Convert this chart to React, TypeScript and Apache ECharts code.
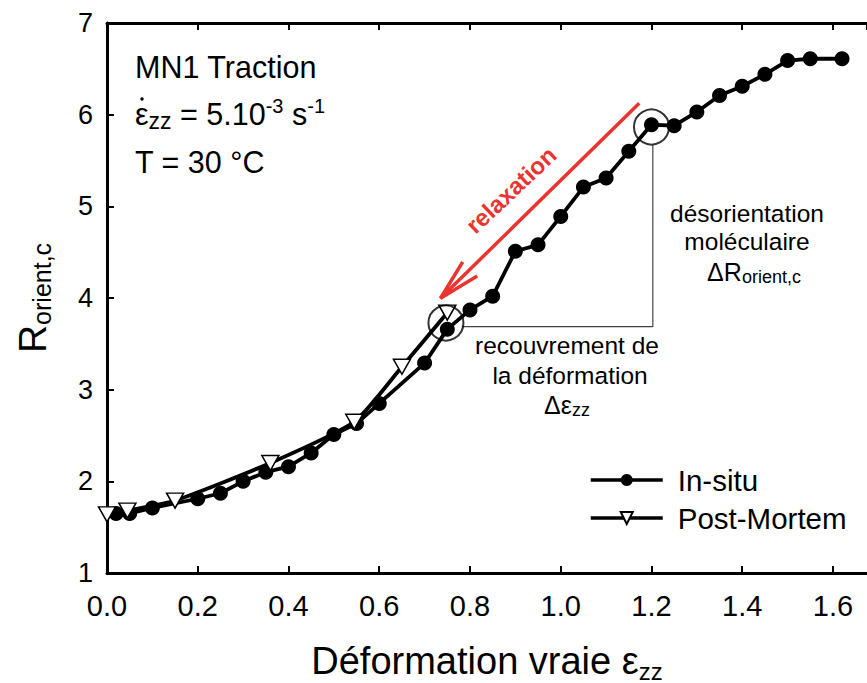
import React, { useEffect, useRef } from "react";
import * as echarts from "echarts";

// ---- data ----
const inSituX = [0.02, 0.05, 0.1, 0.2, 0.25, 0.3, 0.35, 0.4, 0.45, 0.5, 0.55, 0.6, 0.7, 0.75, 0.8, 0.85, 0.9, 0.95, 1.0, 1.05, 1.1, 1.15, 1.2, 1.25, 1.3, 1.35, 1.4, 1.45, 1.5, 1.55, 1.62];
const inSituY = [1.65, 1.65, 1.71, 1.81, 1.87, 2.0, 2.1, 2.16, 2.31, 2.51, 2.63, 2.85, 3.29, 3.66, 3.87, 4.02, 4.51, 4.58, 4.89, 5.21, 5.31, 5.6, 5.89, 5.88, 6.03, 6.21, 6.31, 6.44, 6.59, 6.61, 6.61];
const postMortemX = [0.0, 0.045, 0.15, 0.36, 0.545, 0.65, 0.75];
const postMortemY = [1.64, 1.68, 1.79, 2.2, 2.65, 3.25, 3.84];
const xTicks = [0, 0.2, 0.4, 0.6, 0.8, 1.0, 1.2, 1.4, 1.6];
const yTicks = [1, 2, 3, 4, 5, 6, 7];
const highlightPoints = [[0.747, 3.727], [1.2, 5.865]];
const guideLine = [[0.782, 3.687], [1.203, 3.687], [1.203, 5.669]];
const arrowShaft = [[1.173, 6.124], [0.735, 3.997]];
const arrowHead = [[0.784, 4.394], [0.735, 3.997], [0.816, 4.241]];

const FONT = "Liberation Sans, Arial, sans-serif";
const NARROW = "Liberation Sans Narrow, Liberation Sans, Arial, sans-serif";
const RED = "#ea3430";

export default function App() {
  const ref = useRef<HTMLDivElement>(null);
  useEffect(() => {
    if (!ref.current) return;
    const chart = echarts.init(ref.current, null, { renderer: "svg" });
    const inSitu = inSituX.map((x, i) => [x, inSituY[i]]);
    const pm = postMortemX.map((x, i) => [x, postMortemY[i]]);
    const xMin = xTicks[0];
    const xMax = 1.675; // visible end of the (cropped) axis
    const isTick = (v: number) => xTicks.some((t) => Math.abs(t - v) < 1e-6);
    chart.setOption({
      animation: false,
      backgroundColor: "#ffffff",
      grid: { left: 107, right: 0, top: 23, bottom: 110, containLabel: false, outerBoundsMode: "none" },
      legend: {
        data: ["In-situ", "Post-Mortem"],
        orient: "vertical",
        left: 589,
        top: 465,
        padding: 0,
        itemWidth: 72,
        itemHeight: 15,
        itemGap: 8,
        lineStyle: { width: 3.5, color: "#000" },
        textStyle: { fontFamily: FONT, fontSize: 29.5, color: "#000", padding: [0, 0, 0, 10] },
      },
      xAxis: [
        {
          type: "value",
          min: xMin,
          max: xMax,
          interval: 0.2,
          position: "bottom",
          name: "{a|Déformation vraie ε}{s|zz}",
          nameLocation: "middle",
          nameGap: 66,
          nameTextStyle: {
            rich: {
              a: { fontFamily: NARROW, fontSize: 38, color: "#000", lineHeight: 44 },
              s: { fontFamily: NARROW, fontSize: 24, color: "#000", lineHeight: 22, verticalAlign: "bottom" },
            },
          },
          axisLine: { show: true, onZero: false, lineStyle: { color: "#000", width: 3 } },
          axisTick: { show: true, inside: true, length: 7, lineStyle: { color: "#000", width: 2 } },
          axisLabel: {
            show: true,
            margin: 18,
            fontFamily: NARROW,
            fontSize: 29,
            color: "#000",
            showMaxLabel: false,
            formatter: (v: number) => (isTick(v) ? v.toFixed(1) : ""),
          },
          splitLine: { show: false },
        },
        {
          type: "value",
          min: xMin,
          max: xMax,
          interval: 0.2,
          position: "top",
          axisLine: { show: true, onZero: false, lineStyle: { color: "#000", width: 3 } },
          axisTick: { show: true, inside: true, length: 7, lineStyle: { color: "#000", width: 2 } },
          axisLabel: { show: false },
          splitLine: { show: false },
        },
      ],
      yAxis: {
        type: "value",
        min: yTicks[0],
        max: yTicks[yTicks.length - 1],
        interval: 1,
        name: "{r|R}{s|orient,c}",
        nameLocation: "middle",
        nameRotate: 90,
        nameGap: 53,
        nameTextStyle: {
          rich: {
            r: { fontFamily: FONT, fontSize: 39, color: "#000", lineHeight: 44 },
            s: { fontFamily: FONT, fontSize: 25, color: "#000", lineHeight: 24, verticalAlign: "bottom" },
          },
        },
        axisLine: { show: true, onZero: false, lineStyle: { color: "#000", width: 3 } },
        axisTick: { show: true, inside: true, length: 7, lineStyle: { color: "#000", width: 2 } },
        axisLabel: { margin: 14, fontFamily: FONT, fontSize: 27, color: "#000" },
        splitLine: { show: false },
      },
      series: [
        {
          name: "guide",
          type: "line",
          data: guideLine,
          symbol: "none",
          lineStyle: { color: "#444", width: 1.2 },
          z: 1,
          silent: true,
        },
        {
          name: "arrowShaft",
          type: "line",
          data: arrowShaft,
          symbol: "none",
          lineStyle: { color: RED, width: 3.5 },
          z: 2,
          silent: true,
        },
        {
          name: "arrowHead",
          type: "line",
          data: arrowHead,
          symbol: "none",
          lineStyle: { color: RED, width: 3.5, join: "miter" },
          z: 2,
          silent: true,
        },
        {
          name: "In-situ",
          type: "line",
          data: inSitu,
          symbol: "circle",
          symbolSize: 15,
          itemStyle: { color: "#000" },
          lineStyle: { color: "#000", width: 3.8 },
          z: 3,
        },
        {
          name: "Post-Mortem",
          type: "line",
          data: pm,
          smooth: 0.2,
          symbol: "triangle",
          symbolRotate: 180,
          symbolSize: [17, 15],
          itemStyle: { color: "#fff", borderColor: "#000", borderWidth: 1.5 },
          lineStyle: { color: "#000", width: 3.8 },
          z: 4,
        },
        {
          name: "highlight",
          type: "scatter",
          data: highlightPoints,
          symbol: "circle",
          symbolSize: 35,
          itemStyle: { color: "rgba(0,0,0,0)", borderColor: "#000", borderWidth: 2 },
          z: 5,
          silent: true,
        },
      ],
      graphic: [
        {
          type: "text",
          x: 135,
          y: 67,
          style: { text: "MN1 Traction", fontFamily: FONT, fontSize: 30.5, fill: "#000", verticalAlign: "middle", align: "left" },
        },
        {
          type: "text",
          x: 135,
          y: 114,
          style: {
            text: "{a|ε}{s|zz}{a| = 5.10}{p|-3}{a| s}{p|-1}",
            verticalAlign: "middle",
            align: "left",
            rich: {
              a: { fontFamily: FONT, fontSize: 30.5, fill: "#000", lineHeight: 36 },
              s: { fontFamily: FONT, fontSize: 23, fill: "#000", lineHeight: 22, verticalAlign: "bottom" },
              p: { fontFamily: FONT, fontSize: 20, fill: "#000", lineHeight: 20, verticalAlign: "top" },
            },
          },
        },
        {
          type: "circle",
          shape: { cx: 142, cy: 99, r: 1.7 },
          style: { fill: "#000" },
        },
        {
          type: "text",
          x: 135,
          y: 162,
          style: { text: "T = 30 °C", fontFamily: FONT, fontSize: 30.5, fill: "#000", verticalAlign: "middle", align: "left" },
        },
        {
          type: "text",
          x: 511,
          y: 190,
          rotation: Math.PI / 4 - 0.03,
          style: { text: "relaxation", fontFamily: FONT, fontWeight: "bold", fontSize: 24, fill: RED, align: "center", verticalAlign: "middle" },
        },
        {
          type: "text",
          x: 747,
          y: 213,
          style: { text: "désorientation", fontFamily: FONT, fontSize: 24.5, fill: "#000", align: "center", verticalAlign: "middle" },
        },
        {
          type: "text",
          x: 747,
          y: 241,
          style: { text: "moléculaire", fontFamily: FONT, fontSize: 24.5, fill: "#000", align: "center", verticalAlign: "middle" },
        },
        {
          type: "text",
          x: 754,
          y: 272,
          style: {
            text: "{a|ΔR}{s|orient,c}",
            align: "center",
            verticalAlign: "middle",
            rich: {
              a: { fontFamily: FONT, fontSize: 25, fill: "#000", lineHeight: 28 },
              s: { fontFamily: FONT, fontSize: 18, fill: "#000", lineHeight: 17, verticalAlign: "bottom" },
            },
          },
        },
        {
          type: "text",
          x: 567,
          y: 345,
          style: { text: "recouvrement de", fontFamily: FONT, fontSize: 24.5, fill: "#000", align: "center", verticalAlign: "middle" },
        },
        {
          type: "text",
          x: 570,
          y: 375,
          style: { text: "la déformation", fontFamily: FONT, fontSize: 24.5, fill: "#000", align: "center", verticalAlign: "middle" },
        },
        {
          type: "text",
          x: 567,
          y: 405,
          style: {
            text: "{a|Δε}{s|zz}",
            align: "center",
            verticalAlign: "middle",
            rich: {
              a: { fontFamily: FONT, fontSize: 25, fill: "#000", lineHeight: 28 },
              s: { fontFamily: FONT, fontSize: 18, fill: "#000", lineHeight: 17, verticalAlign: "bottom" },
            },
          },
        },
      ],
    });
    return () => chart.dispose();
  }, []);
  return <div ref={ref} style={{ position: "fixed", left: 0, top: 0, width: 867, height: 683 }} />;
}
